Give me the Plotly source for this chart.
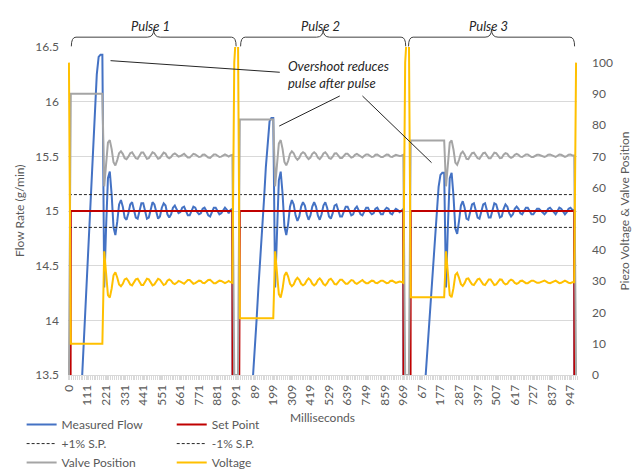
import plotly.graph_objects as go

# ---------------- data ----------------
# category axis: one category per sample (~11 ms); labels every 10th sample
ms_tick_pos = [0, 10, 20, 30, 40, 50, 60, 70, 80, 90,
               100, 110, 120, 130, 140, 150, 160, 170, 180,
               190, 200, 210, 220, 230, 240, 250, 260, 270]
ms_tick_text = ["0", "111", "221", "331", "441", "551", "661", "771", "881", "991",
                "89", "199", "309", "419", "529", "639", "749", "859", "969",
                "67", "177", "287", "397", "507", "617", "727", "837", "947"]

# Measured flow (g/min)
flow_ramp_p1 = [11.00, 11.35, 11.70, 12.05, 12.40, 12.75, 13.10, 13.45, 13.80, 14.15,
                14.50, 14.85, 15.20, 15.55, 15.90, 16.25, 16.41, 16.43, 16.43]
flow_reg_p1 = [14.30, 14.85, 15.30, 15.36, 15.15, 14.85, 14.78, 14.90, 15.06, 15.10,
               15.04, 14.94, 14.92, 14.98, 15.06, 15.08, 15.02, 14.94, 14.93, 15.00,
               15.07, 15.07, 14.99, 14.93, 14.94, 15.02, 15.08, 15.06, 14.98, 14.93,
               14.95, 15.03, 15.07, 15.05, 14.97, 14.94, 14.97, 15.03, 15.05, 15.02,
               14.98, 14.99, 15.03, 15.04, 15.00, 14.96, 14.96, 15.01, 15.04, 15.03,
               14.99, 14.97, 14.98, 15.02, 15.03, 15.00, 14.96, 14.95, 14.99, 15.03,
               15.03, 15.00, 14.97, 14.98, 15.01, 15.03, 15.01, 14.98, 15.01, 15.02]
flow_ramp_p2 = [11.60, 11.85, 12.10, 12.40, 12.65, 12.90, 13.20, 13.45, 13.75, 14.00,
                14.30, 14.55, 14.85, 15.10, 15.40, 15.65, 15.82, 15.85, 15.85]
flow_reg_p2 = [14.30, 14.88, 15.28, 15.36, 15.16, 14.86, 14.78, 14.88, 15.04, 15.10,
               15.06, 14.96, 14.91, 14.95, 15.04, 15.08, 15.05, 14.97, 14.92, 14.96,
               15.04, 15.08, 15.04, 14.96, 14.92, 14.97, 15.05, 15.08, 15.03, 14.95,
               14.93, 14.98, 15.05, 15.06, 15.01, 14.95, 14.95, 15.00, 15.04, 15.04,
               14.99, 14.96, 14.97, 15.02, 15.04, 15.01, 14.97, 14.96, 15.00, 15.03,
               15.03, 14.99, 14.97, 14.98, 15.02, 15.03, 15.00, 14.97, 14.97, 15.01,
               15.03, 15.02, 14.98, 14.97, 15.00, 15.02, 15.01, 14.99, 15.00, 15.02]
flow_ramp_p3 = [11.50, 11.75, 12.00, 12.25, 12.50, 12.75, 13.00, 13.25, 13.50, 13.75,
                14.00, 14.25, 14.50, 14.75, 15.00, 15.22, 15.33, 15.35, 15.35]
flow_reg_p3 = [14.30, 14.86, 15.30, 15.35, 15.14, 14.84, 14.79, 14.91, 15.05, 15.09,
               15.03, 14.93, 14.92, 14.99, 15.06, 15.07, 15.01, 14.94, 14.93, 15.00,
               15.06, 15.07, 15.00, 14.94, 14.94, 15.01, 15.07, 15.06, 14.99, 14.94,
               14.95, 15.02, 15.06, 15.04, 14.98, 14.95, 14.97, 15.02, 15.04, 15.02,
               14.98, 14.97, 15.00, 15.03, 15.03, 15.00, 14.97, 14.97, 15.00, 15.02,
               15.02, 15.00, 14.98, 14.97, 14.99, 15.02, 15.03, 15.01, 14.98, 14.97,
               15.00, 15.03, 15.02, 14.99, 14.97, 14.99, 15.02, 15.03, 15.01, 15.01]

# Piezo voltage (right axis)
volt_reg_p1 = [39.6, 31.9, 25.6, 24.8, 27.7, 31.9, 32.9, 31.2, 29.0, 28.4,
               29.2, 30.6, 30.9, 30.1, 29.0, 28.7, 29.5, 30.6, 30.8, 29.8,
               28.8, 28.8, 29.9, 30.8, 30.6, 29.5, 28.7, 29.0, 30.1, 30.8,
               30.5, 29.4, 28.8, 29.1, 30.2, 30.6, 30.2, 29.4, 29.1, 29.5,
               30.1, 29.9, 29.4, 29.2, 29.8, 30.4, 30.4, 29.7, 29.2, 29.4,
               29.9, 30.2, 30.1, 29.5, 29.4, 29.8, 30.4, 30.5, 29.9, 29.4,
               29.4, 29.8, 30.2, 30.1, 29.7, 29.4, 29.7, 30.1, 29.7, 29.5]
volt_reg_p2 = [39.6, 31.5, 25.9, 24.8, 27.6, 31.8, 32.9, 31.5, 29.2, 28.4,
               29.0, 30.4, 31.1, 30.5, 29.2, 28.7, 29.1, 30.2, 30.9, 30.4,
               29.2, 28.7, 29.2, 30.4, 30.9, 30.2, 29.1, 28.7, 29.4, 30.5,
               30.8, 30.1, 29.1, 29.0, 29.7, 30.5, 30.5, 29.8, 29.2, 29.2,
               29.9, 30.4, 30.2, 29.5, 29.2, 29.7, 30.2, 30.4, 29.8, 29.4,
               29.4, 29.9, 30.2, 30.1, 29.5, 29.4, 29.8, 30.2, 30.2, 29.7,
               29.4, 29.5, 30.1, 30.2, 29.8, 29.5, 29.7, 29.9, 29.8, 29.5]
volt_reg_p3 = [39.6, 31.8, 25.6, 24.9, 27.8, 32.0, 32.7, 31.1, 29.1, 28.5,
               29.4, 30.8, 30.9, 29.9, 29.0, 28.8, 29.7, 30.6, 30.8, 29.8,
               29.0, 28.8, 29.8, 30.6, 30.6, 29.7, 28.8, 29.0, 29.9, 30.6,
               30.5, 29.5, 29.0, 29.2, 30.1, 30.5, 30.2, 29.5, 29.2, 29.5,
               30.1, 30.2, 29.8, 29.4, 29.4, 29.8, 30.2, 30.2, 29.8, 29.5,
               29.5, 29.8, 30.1, 30.2, 29.9, 29.5, 29.4, 29.7, 30.1, 30.2,
               29.8, 29.4, 29.5, 29.9, 30.2, 29.9, 29.5, 29.4, 29.7, 29.7]

# Valve position (right axis)
valve_reg_p1 = [60.4, 68.1, 74.4, 75.2, 72.3, 68.1, 67.1, 68.8, 71.0, 71.6,
                70.8, 69.4, 69.1, 69.9, 71.0, 71.3, 70.5, 69.4, 69.2, 70.2,
                71.2, 71.2, 70.1, 69.2, 69.4, 70.5, 71.3, 71.0, 69.9, 69.2,
                69.5, 70.6, 71.2, 70.9, 69.8, 69.4, 69.8, 70.6, 70.9, 70.5,
                69.9, 70.1, 70.6, 70.8, 70.2, 69.6, 69.6, 70.3, 70.8, 70.6,
                70.1, 69.8, 69.9, 70.5, 70.6, 70.2, 69.6, 69.5, 70.1, 70.6,
                70.6, 70.2, 69.8, 69.9, 70.3, 70.6, 70.3, 69.9, 70.3, 70.5]
valve_reg_p2 = [60.4, 68.5, 74.1, 75.2, 72.4, 68.2, 67.1, 68.5, 70.8, 71.6,
                71.0, 69.6, 68.9, 69.5, 70.8, 71.3, 70.9, 69.8, 69.1, 69.6,
                70.8, 71.3, 70.8, 69.6, 69.1, 69.8, 70.9, 71.3, 70.6, 69.5,
                69.2, 69.9, 70.9, 71.0, 70.3, 69.5, 69.5, 70.2, 70.8, 70.8,
                70.1, 69.6, 69.8, 70.5, 70.8, 70.3, 69.8, 69.6, 70.2, 70.6,
                70.6, 70.1, 69.8, 69.9, 70.5, 70.6, 70.2, 69.8, 69.8, 70.3,
                70.6, 70.5, 69.9, 69.8, 70.2, 70.5, 70.3, 70.1, 70.2, 70.5]
valve_reg_p3 = [60.4, 68.2, 74.4, 75.1, 72.2, 68.0, 67.3, 68.9, 70.9, 71.5,
                70.6, 69.2, 69.1, 70.1, 71.0, 71.2, 70.3, 69.4, 69.2, 70.2,
                71.0, 71.2, 70.2, 69.4, 69.4, 70.3, 71.2, 71.0, 70.1, 69.4,
                69.5, 70.5, 71.0, 70.8, 69.9, 69.5, 69.8, 70.5, 70.8, 70.5,
                69.9, 69.8, 70.2, 70.6, 70.6, 70.2, 69.8, 69.8, 70.2, 70.5,
                70.5, 70.2, 69.9, 69.8, 70.1, 70.5, 70.6, 70.3, 69.9, 69.8,
                70.2, 70.6, 70.5, 70.1, 69.8, 70.1, 70.5, 70.6, 70.3, 70.3]

# pulse segments: [start / ramp part] + regulation + [between-pulse samples]
flow = (flow_ramp_p1 + flow_reg_p1 + [0.0, 0.0, 0.0]
        + flow_ramp_p2 + flow_reg_p2 + [0.0, 0.0, 0.0]
        + flow_ramp_p3 + flow_reg_p3 + [0.0])
set_point = ([0.0] + [15.0] * 88 + [0.0, 0.0, 0.0]
             + [15.0] * 89 + [0.0, 0.0, 0.0]
             + [15.0] * 89 + [0.0])
voltage = ([100.0] + [10.0] * 18 + volt_reg_p1 + [100.0, 110.0, 110.0]
           + [18.2] * 19 + volt_reg_p2 + [100.0, 110.0, 110.0]
           + [24.9] * 19 + volt_reg_p3 + [100.0])
valve = ([0.0] + [90.0] * 18 + valve_reg_p1 + [0.0, 0.0, 0.0]
         + [81.8] * 19 + valve_reg_p2 + [0.0, 0.0, 0.0]
         + [75.1] * 19 + valve_reg_p3 + [0.0])
plus1_x, plus1_y = [0, 273], [15.15, 15.15]
minus1_x, minus1_y = [0, 273], [14.85, 14.85]

sample = list(range(len(flow)))

# pulse braces (category positions) and labels
pulse_names = ["Pulse 1", "Pulse 2", "Pulse 3"]
pulse_spans = [(1.3, 90.0), (92.4, 181.3), (182.8, 272.2)]

# ---------------- figure ----------------
FONT = "Lato"
GREY_TXT = "#595959"
fig = go.Figure()

fig.add_trace(go.Scatter(x=sample, y=flow, name="Measured Flow", mode="lines",
                         line=dict(color="#4472C4", width=2), legend="legend"))
fig.add_trace(go.Scatter(x=sample, y=set_point, name="Set Point", mode="lines",
                         line=dict(color="#C00000", width=2), legend="legend2"))
fig.add_trace(go.Scatter(x=plus1_x, y=plus1_y, name="+1% S.P.", mode="lines",
                         line=dict(color="#262626", width=1, dash="3px,2px"), legend="legend"))
fig.add_trace(go.Scatter(x=minus1_x, y=minus1_y, name="-1% S.P.", mode="lines",
                         line=dict(color="#262626", width=1, dash="3px,2px"), legend="legend2"))
fig.add_trace(go.Scatter(x=sample, y=valve, name="Valve Position", mode="lines", yaxis="y2",
                         line=dict(color="#A5A5A5", width=2), legend="legend"))
fig.add_trace(go.Scatter(x=sample, y=voltage, name="Voltage", mode="lines", yaxis="y2",
                         line=dict(color="#FFC000", width=2), legend="legend2"))

shapes = []
annotations = []
yb, yl, yt = 1.002, 1.030, 1.054
for name, (x0, x1) in zip(pulse_names, pulse_spans):
    xm = (x0 + x1) / 2
    re_, rm = 2.5, 3.5
    path = (f"M {x0},{yb} Q {x0},{yl} {x0 + re_},{yl} L {xm - rm},{yl} "
            f"Q {xm},{yl} {xm},{yt} Q {xm},{yl} {xm + rm},{yl} "
            f"L {x1 - re_},{yl} Q {x1},{yl} {x1},{yb}")
    shapes.append(dict(type="path", path=path, xref="x", yref="paper",
                       line=dict(color="#404040", width=1)))
    annotations.append(dict(text=name, x=xm - 1.5, y=1.096, xref="x", yref="paper",
                            showarrow=False, font=dict(family=FONT, size=13, color="#262626",
                                                       style="italic")))

# callout lines for "Overshoot reduces pulse after pulse"
callouts = [((22.4, 16.375), (113.5, 16.269)),
            ((145.8, 16.052), (113.2, 15.777)),
            ((158.0, 16.052), (195.2, 15.442))]
for (xa, ya), (xb, yb2) in callouts:
    shapes.append(dict(type="line", x0=xa, y0=ya, x1=xb, y1=yb2, xref="x", yref="y",
                       line=dict(color="#262626", width=1)))
annotations.append(dict(text="Overshoot reduces<br>pulse after pulse", x=117.0, y=16.244,
                        xref="x", yref="y", xanchor="left", yanchor="middle", align="left",
                        showarrow=False,
                        font=dict(family=FONT, size=13, color="#262626", style="italic")))
# left axis title
annotations.append(dict(text="Flow Rate (g/min)", x=-0.0963, y=0.5, xref="paper", yref="paper",
                        textangle=-90, showarrow=False, xanchor="center", yanchor="middle",
                        font=dict(family=FONT, size=12, color=GREY_TXT)))

fig.update_layout(
    width=636, height=473,
    margin=dict(l=68, r=59, t=47, b=98, autoexpand=False),
    paper_bgcolor="white", plot_bgcolor="white",
    font=dict(family=FONT, size=12, color=GREY_TXT),
    shapes=shapes, annotations=annotations,
    xaxis=dict(range=[-0.5, 273.5], tickmode="array", tickvals=ms_tick_pos,
               ticktext=ms_tick_text, tickangle=-90, showgrid=False, zeroline=False,
               showline=True, linecolor="#D9D9D9", linewidth=1,
               ticks="outside", ticklen=4, tickcolor="#D9D9D9",
               minor=dict(tickmode="linear", tick0=-0.5, dtick=1, ticks="outside",
                          ticklen=4, tickcolor="#D9D9D9"),
               tickfont=dict(size=12, color=GREY_TXT),
               title=dict(text="Milliseconds", standoff=8, font=dict(size=12, color=GREY_TXT))),
    yaxis=dict(range=[13.5, 16.5], dtick=0.5, tick0=13.5, showgrid=True,
               gridcolor="#D9D9D9", gridwidth=1, zeroline=False, showline=False,
               ticklabelstandoff=8, tickfont=dict(size=12, color=GREY_TXT)),
    yaxis2=dict(range=[0, 105], tickmode="array", tickvals=[0, 10, 20, 30, 40, 50, 60, 70, 80, 90, 100],
                overlaying="y", side="right", showgrid=False, zeroline=False, showline=False,
                ticklabelstandoff=14, tickfont=dict(size=12, color=GREY_TXT),
                title=dict(text="Piezo Voltage &amp; Valve Position", standoff=8,
                           font=dict(size=12, color=GREY_TXT))),
    legend=dict(x=0.034, y=0.133, xref="container", yref="container",
                xanchor="left", yanchor="top", orientation="v",
                font=dict(size=12, color=GREY_TXT), bgcolor="rgba(0,0,0,0)", tracegroupgap=0),
    legend2=dict(x=0.270, y=0.133, xref="container", yref="container",
                 xanchor="left", yanchor="top", orientation="v",
                 font=dict(size=12, color=GREY_TXT), bgcolor="rgba(0,0,0,0)", tracegroupgap=0),
)

fig.write_html("out.html", config={"displayModeBar": False},
               post_script="document.body.style.margin='0';")
